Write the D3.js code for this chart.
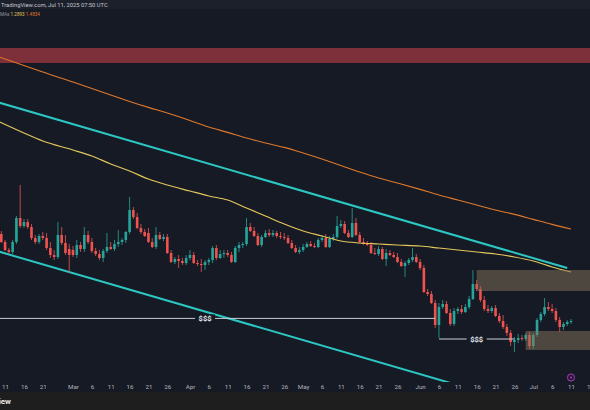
<!DOCTYPE html>
<html>
<head>
<meta charset="utf-8">
<script src="https://cdn.jsdelivr.net/npm/d3@7"></script>
<style>
  html, body { margin: 0; padding: 0; background: #161a25; }
  svg { display: block; font-family: Roboto, "Liberation Sans", Arial, sans-serif; }
</style>
</head>
<body>
<svg id="chart" width="590" height="410"></svg>
<script>
// daily candles, Feb 10 -> Jul 11 2025
var firstDay = "2025-02-10";
var lastDay = "2025-07-11";

var opens = [
  // Feb
  1.430,1.390,1.350,1.340,1.390,1.510,1.470,1.490,1.465,1.410,1.390,1.420,1.410,1.360,1.325,1.315,1.425,1.385,1.355,
  // Mar
  1.350,1.325,1.375,1.355,1.425,1.390,1.345,1.330,1.310,1.345,1.365,1.355,1.380,1.390,1.400,1.440,1.550,1.515,1.460,1.440,1.435,1.390,1.365,1.425,1.405,1.415,1.335,1.290,1.305,1.295,1.285,
  // Apr
  1.310,1.325,1.285,1.280,1.275,1.290,1.300,1.360,1.310,1.330,1.335,1.325,1.290,1.360,1.375,1.380,1.465,1.445,1.420,1.375,1.415,1.435,1.425,1.435,1.420,1.415,1.410,1.385,1.360,1.340,
  // May
  1.350,1.365,1.380,1.370,1.365,1.400,1.410,1.365,1.405,1.415,1.470,1.480,1.435,1.415,1.485,1.425,1.390,1.380,1.375,1.335,1.330,1.355,1.305,1.335,1.325,1.315,1.290,1.270,1.285,1.300,1.315,
  // Jun
  1.290,1.260,1.140,1.130,1.085,0.975,1.065,1.080,1.035,0.980,1.045,1.055,1.040,1.065,1.105,1.180,1.155,1.100,1.055,1.045,1.060,1.020,0.995,0.965,0.935,0.890,0.900,0.910,0.905,0.925,
  // Jul
  0.870,0.925,1.000,1.030,1.065,1.055,1.045,1.000,0.965,0.980,0.990
];
var highs = [
  1.445,1.400,1.360,1.400,1.520,1.675,1.505,1.505,1.480,1.425,1.430,1.440,1.435,1.390,1.350,1.490,1.465,1.425,1.380,
  1.370,1.400,1.390,1.465,1.445,1.410,1.360,1.350,1.355,1.435,1.390,1.400,1.450,1.410,1.445,1.615,1.565,1.535,1.480,1.455,1.460,1.410,1.465,1.440,1.430,1.430,1.350,1.315,1.325,1.310,1.325,
  1.350,1.340,1.300,1.305,1.300,1.310,1.370,1.375,1.350,1.350,1.350,1.340,1.370,1.390,1.390,1.510,1.485,1.465,1.435,1.425,1.450,1.455,1.450,1.445,1.440,1.435,1.425,1.400,1.375,1.365,
  1.380,1.390,1.395,1.385,1.410,1.425,1.430,1.420,1.430,1.520,1.500,1.495,1.450,1.560,1.510,1.440,1.410,1.395,1.390,1.360,1.370,1.365,1.355,1.350,1.340,1.335,1.305,1.295,1.310,1.360,1.330,
  1.305,1.275,1.155,1.145,1.100,1.085,1.100,1.095,1.055,1.060,1.065,1.075,1.080,1.120,1.250,1.200,1.170,1.120,1.075,1.070,1.075,1.035,1.025,0.980,0.950,0.915,0.930,0.925,0.935,0.940,
  0.935,1.010,1.040,1.110,1.090,1.080,1.060,1.015,0.990,1.000,1.005
];
var lows = [
  1.385,1.345,1.330,1.330,1.380,1.460,1.460,1.455,1.400,1.380,1.380,1.400,1.350,1.310,1.300,1.305,1.375,1.325,1.235,
  1.315,1.310,1.340,1.340,1.380,1.335,1.320,1.300,1.290,1.335,1.350,1.345,1.365,1.375,1.385,1.430,1.505,1.455,1.430,1.415,1.385,1.360,1.355,1.400,1.395,1.330,1.285,1.280,1.260,1.275,1.275,
  1.300,1.280,1.270,1.240,1.250,1.275,1.285,1.300,1.305,1.310,1.315,1.285,1.285,1.340,1.360,1.370,1.440,1.415,1.370,1.365,1.410,1.415,1.415,1.410,1.405,1.400,1.380,1.355,1.335,1.330,
  1.340,1.360,1.365,1.360,1.360,1.390,1.360,1.360,1.395,1.405,1.460,1.430,1.410,1.410,1.420,1.385,1.375,1.370,1.330,1.325,1.320,1.300,1.270,1.320,1.310,1.285,1.265,1.215,1.275,1.290,1.285,
  1.250,1.135,1.120,1.080,0.960,0.910,1.055,1.030,0.970,0.970,1.030,1.030,1.035,1.055,1.100,1.145,1.090,1.045,1.035,1.035,1.015,0.985,0.955,0.920,0.870,0.840,0.885,0.895,0.895,0.855,
  0.855,0.915,0.990,1.020,1.045,1.035,0.990,0.940,0.950,0.970,0.980
];
var closes = [
  1.390,1.350,1.340,1.390,1.510,1.470,1.490,1.465,1.410,1.390,1.420,1.410,1.360,1.325,1.315,1.425,1.385,1.335,1.325,
  1.325,1.375,1.355,1.425,1.390,1.345,1.330,1.310,1.345,1.365,1.355,1.380,1.390,1.400,1.440,1.550,1.515,1.460,1.440,1.420,1.390,1.365,1.425,1.405,1.415,1.335,1.290,1.305,1.295,1.285,1.310,
  1.325,1.285,1.280,1.275,1.290,1.300,1.360,1.310,1.330,1.335,1.325,1.290,1.360,1.375,1.380,1.465,1.445,1.420,1.375,1.415,1.435,1.425,1.435,1.420,1.415,1.410,1.385,1.360,1.340,1.350,
  1.365,1.380,1.370,1.365,1.400,1.410,1.365,1.405,1.415,1.470,1.480,1.435,1.415,1.485,1.425,1.390,1.380,1.375,1.335,1.330,1.355,1.305,1.335,1.325,1.315,1.290,1.270,1.285,1.300,1.315,1.290,
  1.260,1.140,1.130,1.085,0.975,1.065,1.080,1.035,0.980,1.045,1.055,1.040,1.065,1.105,1.180,1.155,1.100,1.055,1.045,1.060,1.020,0.995,0.965,0.935,0.890,0.900,0.910,0.905,0.925,0.870,
  0.925,1.000,1.030,1.065,1.055,1.045,1.000,0.965,0.980,0.990,0.995
];

// moving averages, read every 5 days
var maDates = ["2025-02-09","2025-02-16","2025-02-21","2025-03-01","2025-03-06","2025-03-11","2025-03-16","2025-03-21","2025-03-26",
  "2025-04-01","2025-04-06","2025-04-11","2025-04-16","2025-04-21","2025-04-26","2025-05-01","2025-05-06","2025-05-11","2025-05-16",
  "2025-05-21","2025-05-26","2025-06-01","2025-06-06","2025-06-11","2025-06-16","2025-06-21","2025-06-26","2025-07-01","2025-07-06","2025-07-11"];
var ma100 = [1.995,1.935,1.895,1.850,1.820,1.780,1.745,1.705,1.675,1.645,1.620,1.600,1.560,1.520,1.480,
  1.445,1.420,1.395,1.385,1.380,1.375,1.370,1.360,1.350,1.340,1.330,1.315,1.295,1.265,1.240];
var ma200 = [2.318,2.273,2.240,2.190,2.158,2.125,2.093,2.063,2.035,1.998,1.965,1.938,1.910,1.885,1.863,
  1.835,1.805,1.773,1.740,1.710,1.685,1.653,1.625,1.600,1.575,1.550,1.528,1.503,1.478,1.455];

// drawings: [date1, price1, date2, price2]
var channelTop = ["2025-02-09", 2.089, "2025-07-10", 1.260];
var channelBottom = ["2025-02-09", 1.344, "2025-06-30", 0.570];
var supplyZone = ["2025-01-20", 2.360, "2025-08-01", 2.285];
var zoneUpper = ["2025-06-16", 1.250, "2025-08-01", 1.145];
var zoneLower = ["2025-06-29", 0.945, "2025-08-01", 0.850];
var liqLines = [
  ["2025-02-01", 1.008, "2025-06-05", "2025-04-05"],
  ["2025-06-06", 0.905, "2025-06-26", "2025-06-16"]
];

var tickDates = ["2025-02-11","2025-02-16","2025-02-21","2025-03-01","2025-03-06","2025-03-11","2025-03-16","2025-03-21","2025-03-26",
  "2025-04-01","2025-04-06","2025-04-11","2025-04-16","2025-04-21","2025-04-26","2025-05-01","2025-05-06","2025-05-11","2025-05-16",
  "2025-05-21","2025-05-26","2025-06-01","2025-06-06","2025-06-11","2025-06-16","2025-06-21","2025-06-26","2025-07-01","2025-07-06",
  "2025-07-11","2025-07-16"];

var W = 590, H = 410;
var paneTop = 9, paneBottom = 382;
var parse = d3.utcParse("%Y-%m-%d");

var x = d3.scaleUtc()
  .domain([parse("2025-03-01"), parse("2025-07-11")])
  .range([73, 571]);
var y = d3.scaleLinear()
  .domain([0.55, 2.6])
  .range([410, 0]);

var days = d3.utcDay.range(parse(firstDay), d3.utcDay.offset(parse(lastDay), 1));
var n = Math.min(days.length, opens.length, highs.length, lows.length, closes.length);
var candles = [];
for (var i = 0; i < n; i++) {
  candles.push({ date: days[i], o: opens[i], h: highs[i], l: lows[i], c: closes[i] });
}

var svg = d3.select("#chart");

svg.append("rect").attr("width", W).attr("height", H).attr("fill", "#161a25");

svg.append("defs").append("clipPath").attr("id", "pane")
  .append("rect").attr("x", 0).attr("y", paneTop).attr("width", W).attr("height", paneBottom - paneTop);

var pane = svg.append("g").attr("clip-path", "url(#pane)");

// red zone on top
pane.append("rect")
  .attr("x", x(parse(supplyZone[0])))
  .attr("y", y(supplyZone[1]))
  .attr("width", x(parse(supplyZone[2])) - x(parse(supplyZone[0])))
  .attr("height", y(supplyZone[3]) - y(supplyZone[1]))
  .attr("fill", "#7d2f3a");

// channel
[channelTop, channelBottom].forEach(function(t) {
  pane.append("line")
    .attr("x1", x(parse(t[0]))).attr("y1", y(t[1]))
    .attr("x2", x(parse(t[2]))).attr("y2", y(t[3]))
    .attr("stroke", "#2cc7c2")
    .attr("stroke-width", 2);
});

// candles
var bw = 2.6;
var cg = pane.append("g");
cg.selectAll("line")
  .data(candles)
  .enter().append("line")
  .attr("x1", function(d) { return x(d.date); })
  .attr("x2", function(d) { return x(d.date); })
  .attr("y1", function(d) { return y(d.h); })
  .attr("y2", function(d) { return y(d.l); })
  .attr("stroke", function(d) { return d.c >= d.o ? "#26a69a" : "#ef5350"; })
  .attr("stroke-width", 0.8);
cg.selectAll("rect")
  .data(candles)
  .enter().append("rect")
  .attr("x", function(d) { return x(d.date) - bw / 2; })
  .attr("width", bw)
  .attr("y", function(d) { return y(Math.max(d.o, d.c)); })
  .attr("height", function(d) { return Math.max(0.8, Math.abs(y(d.o) - y(d.c))); })
  .attr("fill", function(d) { return d.c >= d.o ? "#26a69a" : "#ef5350"; });

// moving averages
var maLine = d3.line()
  .x(function(d) { return x(d[0]); })
  .y(function(d) { return y(d[1]); })
  .curve(d3.curveMonotoneX);
var dMa = maDates.map(parse);
pane.append("path")
  .datum(dMa.map(function(d, i) { return [d, ma200[i]]; }))
  .attr("d", maLine)
  .attr("fill", "none")
  .attr("stroke", "#e0782a")
  .attr("stroke-width", 1.1);
pane.append("path")
  .datum(dMa.map(function(d, i) { return [d, ma100[i]]; }))
  .attr("d", maLine)
  .attr("fill", "none")
  .attr("stroke", "#e3c75b")
  .attr("stroke-width", 1.2);

// beige zones
[zoneUpper, zoneLower].forEach(function(z) {
  pane.append("rect")
    .attr("x", x(parse(z[0])))
    .attr("y", y(z[1]))
    .attr("width", x(parse(z[2])) - x(parse(z[0])))
    .attr("height", y(z[3]) - y(z[1]))
    .attr("fill", "rgba(134,116,92,0.5)");
});

// liquidity lines with $$$ labels
liqLines.forEach(function(l) {
  var yy = y(l[1]);
  pane.append("line")
    .attr("x1", x(parse(l[0]))).attr("x2", x(parse(l[2])))
    .attr("y1", yy).attr("y2", yy)
    .attr("stroke", "#c9ccd4")
    .attr("stroke-width", 1);
  var lx = x(parse(l[3]));
  pane.append("rect")
    .attr("x", lx - 10).attr("y", yy - 4)
    .attr("width", 20).attr("height", 8)
    .attr("fill", "#161a25");
  pane.append("text")
    .attr("x", lx).attr("y", yy + 2.6)
    .attr("text-anchor", "middle")
    .attr("font-size", 7.5)
    .attr("font-weight", "bold")
    .attr("fill", "#e6e8ee")
    .text("$$$");
});

// header
svg.append("rect").attr("width", W).attr("height", paneTop).attr("fill", "#1c202b");
svg.append("text")
  .attr("x", 1).attr("y", 6.5)
  .attr("font-size", 5.8)
  .attr("fill", "#c3c6ce")
  .text("TradingView.com, Jul 11, 2025 07:50 UTC");
var leg = svg.append("text").attr("x", 0).attr("y", 15.5).attr("font-size", 4.6);
leg.append("tspan").attr("fill", "#9598a1").text("MAs ");
leg.append("tspan").attr("fill", "#e3c75b").text("1.2893 ");
leg.append("tspan").attr("fill", "#e0782a").text("1.4834");

// time axis
var fmtMonth = d3.utcFormat("%b");
var axis = svg.append("g")
  .attr("transform", "translate(0," + paneBottom + ")")
  .call(d3.axisBottom(x)
    .tickValues(tickDates.map(parse))
    .tickSize(0)
    .tickPadding(3)
    .tickFormat(function(d) { return d.getUTCDate() === 1 ? fmtMonth(d) : String(d.getUTCDate()); }));
axis.select(".domain").remove();
axis.selectAll("text")
  .attr("fill", "#b2b5be")
  .attr("font-size", 6.2)
  .attr("font-family", "Roboto, 'Liberation Sans', Arial, sans-serif");

// event marker
var ev = svg.append("g").attr("transform", "translate(" + x(parse("2025-07-11")) + ",377.5)");
ev.append("circle").attr("r", 3.6).attr("fill", "#2a1832").attr("stroke", "#a23cb8").attr("stroke-width", 1);
ev.append("circle").attr("r", 1).attr("fill", "#a23cb8");

// bottom strip
svg.append("rect").attr("x", 0).attr("y", 392).attr("width", W).attr("height", H - 392).attr("fill", "#1e1e1e");
svg.append("text")
  .attr("x", 11).attr("y", 403.5)
  .attr("text-anchor", "end")
  .attr("font-size", 8)
  .attr("font-weight", "bold")
  .attr("fill", "#e8e8e8")
  .text("TradingView");
</script>
</body>
</html>
